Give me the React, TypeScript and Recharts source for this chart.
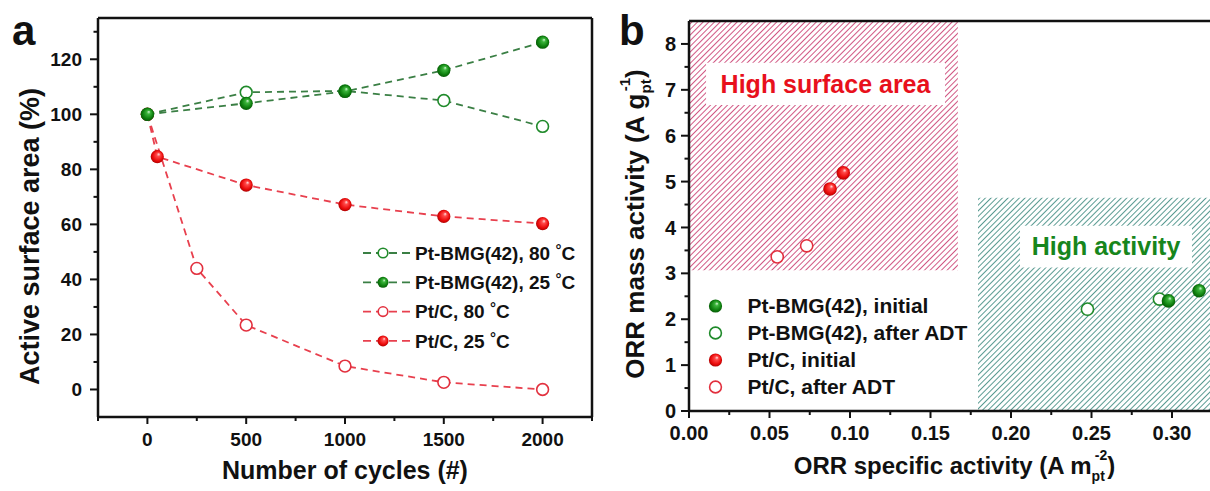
import React from 'react';
import {
  LineChart, Line, XAxis, YAxis, ReferenceLine, ReferenceArea, Legend,
  ScatterChart, Scatter, Label,
} from 'recharts';

const FONT = '"Liberation Sans", Arial, Helvetica, sans-serif';

// ---------- Panel a data ----------
const cycleMajorTicks = [0, 500, 1000, 1500, 2000];
const cycleMinorTicks = [-250, 250, 750, 1250, 1750, 2250];
const areaMajorTicks = [0, 20, 40, 60, 80, 100, 120];
const areaMinorTicks = [10, 30, 50, 70, 90, 110, 130];

const bmg80Cycles = [0, 500, 1000, 1500, 2000];
const bmg80Area = [100, 108, 108.5, 105, 95.6];
const bmg25Cycles = [0, 500, 1000, 1500, 2000];
const bmg25Area = [100, 104, 108.3, 116, 126.2];
const ptc80Cycles = [0, 250, 500, 1000, 1500, 2000];
const ptc80Area = [100, 44, 23.4, 8.5, 2.6, 0];
const ptc25Cycles = [0, 50, 500, 1000, 1500, 2000];
const ptc25Area = [100, 84.6, 74.3, 67.2, 62.9, 60.3];

// ---------- Panel b data ----------
const specMajorTicks = [0, 0.05, 0.1, 0.15, 0.2, 0.25, 0.3];
const specMinorTicks = [0.025, 0.075, 0.125, 0.175, 0.225, 0.275];
const massMajorTicks = [0, 1, 2, 3, 4, 5, 6, 7, 8];
const massMinorTicks = [0.5, 1.5, 2.5, 3.5, 4.5, 5.5, 6.5, 7.5];

const bmgInitSpec = [0.2978, 0.3168];
const bmgInitMass = [2.4, 2.62];
const bmgAdtSpec = [0.2475, 0.2922];
const bmgAdtMass = [2.22, 2.44];
const ptcInitSpec = [0.0876, 0.0958];
const ptcInitMass = [4.84, 5.19];
const ptcAdtSpec = [0.0548, 0.0731];
const ptcAdtMass = [3.36, 3.6];

const zip = (xs: number[], ys: number[]) => xs.map((x, i) => ({ x, y: ys[i] }));

const GREEN_LINE = '#3a7f44';
const GREEN = '#1f8a2a';
const RED_LINE = '#e8404e';
const RED = '#e2303e';

type Mk = { kind: 'filled' | 'open'; color: 'green' | 'red' };

const Marker = ({ cx, cy, r, m }: { cx: number; cy: number; r: number; m: Mk }) => {
  if (m.kind === 'filled') {
    return <circle cx={cx} cy={cy} r={r} fill={m.color === 'green' ? 'url(#sphGreen)' : 'url(#sphRed)'} />;
  }
  return (
    <circle cx={cx} cy={cy} r={r - 0.7} fill="#fff" stroke={m.color === 'green' ? GREEN : RED} strokeWidth={1.6} />
  );
};

const makeTick = (o: {
  orient: 'left' | 'bottom'; majors: number[]; fmt: (v: number) => string;
  fontSize: number; size: number; margin: number; majorLen: number; minorLen: number;
}) => (props: any) => {
  const { x, y, payload } = props;
  const v = payload.value as number;
  const major = o.majors.some((m) => Math.abs(m - v) < 1e-9);
  const len = major ? o.majorLen : o.minorLen;
  if (o.orient === 'left') {
    const ax = x + o.margin + o.size;
    return (
      <g>
        <line x1={ax - len} x2={ax} y1={y} y2={y} stroke="#111" strokeWidth={2} />
        {major && (
          <text x={x} y={y} dy="0.355em" textAnchor="end" fontFamily={FONT} fontWeight="bold" fontSize={o.fontSize} fill="#111">
            {o.fmt(v)}
          </text>
        )}
      </g>
    );
  }
  const ay = y - o.margin - o.size;
  return (
    <g>
      <line x1={x} x2={x} y1={ay} y2={ay + len} stroke="#111" strokeWidth={2} />
      {major && (
        <text x={x} y={y} dy="0.71em" textAnchor="middle" fontFamily={FONT} fontWeight="bold" fontSize={o.fontSize} fill="#111">
          {o.fmt(v)}
        </text>
      )}
    </g>
  );
};

const seriesA = [
  { name: 'Pt-BMG(42), 80 ', xs: bmg80Cycles, ys: bmg80Area, line: GREEN_LINE, m: { kind: 'open', color: 'green' } as Mk },
  { name: 'Pt-BMG(42), 25 ', xs: bmg25Cycles, ys: bmg25Area, line: GREEN_LINE, m: { kind: 'filled', color: 'green' } as Mk },
  { name: 'Pt/C, 80 ', xs: ptc80Cycles, ys: ptc80Area, line: RED_LINE, m: { kind: 'open', color: 'red' } as Mk },
  { name: 'Pt/C, 25 ', xs: ptc25Cycles, ys: ptc25Area, line: RED_LINE, m: { kind: 'filled', color: 'red' } as Mk },
];
const drawOrderA = [2, 3, 0, 1];

const seriesB = [
  { name: 'Pt-BMG(42), initial', xs: bmgInitSpec, ys: bmgInitMass, m: { kind: 'filled', color: 'green' } as Mk },
  { name: 'Pt-BMG(42), after ADT', xs: bmgAdtSpec, ys: bmgAdtMass, m: { kind: 'open', color: 'green' } as Mk },
  { name: 'Pt/C, initial', xs: ptcInitSpec, ys: ptcInitMass, m: { kind: 'filled', color: 'red' } as Mk },
  { name: 'Pt/C, after ADT', xs: ptcAdtSpec, ys: ptcAdtMass, m: { kind: 'open', color: 'red' } as Mk },
];
const drawOrderB = [1, 0, 3, 2];

const LegendA = () => (
  <svg width={240} height={125} style={{ overflow: 'visible', display: 'block' }}>
    {seriesA.map((s, i) => {
      const cy = 17 + i * 29.3;
      return (
        <g key={i}>
          <line x1={8} x2={55} y1={cy} y2={cy} stroke={s.line} strokeWidth={1.8} strokeDasharray="8 5" />
          <Marker cx={28} cy={cy} r={5.5} m={s.m} />
          <text x={60} y={cy} dy="0.355em" fontFamily={FONT} fontWeight="bold" fontSize={19} fill="#111">
            {s.name}
            <tspan fontSize={15} dy={-5}>°</tspan>
            <tspan dy={5}>C</tspan>
          </text>
        </g>
      );
    })}
  </svg>
);

const LegendB = () => (
  <svg width={280} height={115} style={{ overflow: 'visible', display: 'block' }}>
    {seriesB.map((s, i) => {
      const cy = 16 + i * 27;
      return (
        <g key={i}>
          <Marker cx={15.5} cy={cy} r={6.6} m={s.m} />
          <text x={47.6} y={cy} dy="0.355em" fontFamily={FONT} fontWeight="bold" fontSize={21} fill="#111">
            {s.name}
          </text>
        </g>
      );
    })}
  </svg>
);

const YLabelA = (props: any) => {
  const vb = props.viewBox;
  const cx = vb.x + 30;
  const cy = vb.y + vb.height / 2 + 19;
  return (
    <text x={cx} y={cy} dy="0.35em" textAnchor="middle" transform={`rotate(-90 ${cx} ${cy})`} fontFamily={FONT} fontWeight="bold" fontSize={27} fill="#111">
      Active surface area (%)
    </text>
  );
};

const XLabelA = (props: any) => {
  const vb = props.viewBox;
  const cx = vb.x + vb.width / 2;
  return (
    <text x={cx} y={470} dy="0.35em" textAnchor="middle" fontFamily={FONT} fontWeight="bold" fontSize={25} fill="#111">
      Number of cycles (#)
    </text>
  );
};

const YLabelB = (props: any) => {
  const vb = props.viewBox;
  const cx = vb.x + 35;
  const cy = vb.y + vb.height / 2 + 8;
  return (
    <text x={cx} y={cy} dy="0.35em" textAnchor="middle" transform={`rotate(-90 ${cx} ${cy})`} fontFamily={FONT} fontWeight="bold" fontSize={26} fill="#111">
      ORR mass activity (A g
      <tspan fontSize={15} dy={7}>pt</tspan>
      <tspan fontSize={15} dx={-12} dy={-21}>-1</tspan>
      <tspan dy={14}>)</tspan>
    </text>
  );
};

const XLabelB = (props: any) => {
  const vb = props.viewBox;
  const cx = vb.x + vb.width / 2 + 5;
  return (
    <text x={cx} y={466} dy="0.35em" textAnchor="middle" fontFamily={FONT} fontWeight="bold" fontSize={24} fill="#111">
      ORR specific activity (A m
      <tspan fontSize={14} dy={7}>pt</tspan>
      <tspan fontSize={14} dx={-10} dy={-21}>-2</tspan>
      <tspan dy={14}>)</tspan>
    </text>
  );
};

const Defs = () => (
  <svg width={0} height={0} style={{ position: 'absolute' }}>
    <defs>
      <radialGradient id="sphGreen" cx="0.5" cy="0.5" r="0.55" fx="0.62" fy="0.3">
        <stop offset="0" stopColor="#d8f7d8" />
        <stop offset="0.25" stopColor="#3cb53c" />
        <stop offset="0.7" stopColor="#0e7f0e" />
        <stop offset="1" stopColor="#055205" />
      </radialGradient>
      <radialGradient id="sphRed" cx="0.5" cy="0.5" r="0.55" fx="0.62" fy="0.3">
        <stop offset="0" stopColor="#ffe4e4" />
        <stop offset="0.25" stopColor="#ff4a4a" />
        <stop offset="0.7" stopColor="#ea0a0a" />
        <stop offset="1" stopColor="#a00000" />
      </radialGradient>
      <pattern id="hatchPink" patternUnits="userSpaceOnUse" width={4} height={4} patternTransform="rotate(45)">
        <rect width={4} height={4} fill="#fff" />
        <line x1={0} y1={0} x2={0} y2={4} stroke="#c93a6e" strokeWidth={1.7} />
      </pattern>
      <pattern id="hatchGreen" patternUnits="userSpaceOnUse" width={4} height={4} patternTransform="rotate(45)">
        <rect width={4} height={4} fill="#fff" />
        <line x1={0} y1={0} x2={0} y2={4} stroke="#2f8276" strokeWidth={1.6} />
      </pattern>
    </defs>
  </svg>
);

export default function App() {
  return (
    <div style={{ position: 'fixed', left: 0, top: 0, width: 1210, height: 491, overflow: 'hidden', background: '#fff' }}>
      <Defs />
      {/* Panel a */}
      <div style={{ position: 'absolute', left: 0, top: 0 }}>
        <LineChart width={600} height={491} margin={{ top: 18, right: 8, bottom: 0, left: 0 }}>
          <XAxis
            dataKey="x" type="number" domain={[-250, 2250]} allowDataOverflow
            ticks={[...cycleMajorTicks, ...cycleMinorTicks].sort((a, b) => a - b)} interval={0}
            tickLine={false} tickSize={7} tickMargin={9} height={74}
            axisLine={{ stroke: '#111', strokeWidth: 2.5 }}
            tick={makeTick({ orient: 'bottom', majors: cycleMajorTicks, fmt: (v) => String(v), fontSize: 19, size: 7, margin: 9, majorLen: 7, minorLen: 4 })}
          >
            <Label content={<XLabelA />} />
          </XAxis>
          <YAxis
            dataKey="y" type="number" domain={[-10, 135]} allowDataOverflow
            ticks={[...areaMajorTicks, ...areaMinorTicks].sort((a, b) => a - b)} interval={0}
            tickLine={false} tickSize={8} tickMargin={8} width={98}
            axisLine={{ stroke: '#111', strokeWidth: 2.5 }}
            tick={makeTick({ orient: 'left', majors: areaMajorTicks, fmt: (v) => String(v), fontSize: 19, size: 8, margin: 8, majorLen: 8, minorLen: 4.5 })}
          >
            <Label content={<YLabelA />} />
          </YAxis>
          <ReferenceLine y={135} stroke="#111" strokeWidth={2.5} />
          <ReferenceLine x={2250} stroke="#111" strokeWidth={2.5} />
          {drawOrderA.map((k) => {
            const s = seriesA[k];
            return (
              <Line
                key={k}
                data={zip(s.xs, s.ys)}
                dataKey="y"
                name={s.name}
                type="linear"
                stroke={s.line}
                strokeWidth={1.8}
                strokeDasharray="7 5"
                isAnimationActive={false}
                dot={(p: any) => <Marker key={`d${k}-${p.index}`} cx={p.cx} cy={p.cy} r={6.6} m={s.m} />}
                activeDot={false}
              />
            );
          })}
          <Legend
            layout="vertical" align="center" verticalAlign="middle"
            wrapperStyle={{ left: 355, top: 236, width: 240 }}
            content={() => <LegendA />}
          />
        </LineChart>
      </div>

      {/* Panel b */}
      <div style={{ position: 'absolute', left: 600, top: 0 }}>
        <ScatterChart width={610} height={491} margin={{ top: 21, right: 0, bottom: 0, left: 0 }}>
          <XAxis
            dataKey="x" type="number" domain={[0, 0.3236]} allowDataOverflow
            ticks={[...specMajorTicks, ...specMinorTicks].sort((a, b) => a - b)} interval={0}
            tickLine={false} tickSize={7} tickMargin={8} height={80}
            axisLine={{ stroke: '#111', strokeWidth: 2.5 }}
            tick={makeTick({ orient: 'bottom', majors: specMajorTicks, fmt: (v) => v.toFixed(2), fontSize: 20, size: 7, margin: 8, majorLen: 7, minorLen: 4 })}
          >
            <Label content={<XLabelB />} />
          </XAxis>
          <YAxis
            dataKey="y" type="number" domain={[0, 8.5]} allowDataOverflow
            ticks={[...massMajorTicks, ...massMinorTicks].sort((a, b) => a - b)} interval={0}
            tickLine={false} tickSize={8} tickMargin={5} width={89}
            axisLine={{ stroke: '#111', strokeWidth: 2.5 }}
            tick={makeTick({ orient: 'left', majors: massMajorTicks, fmt: (v) => String(v), fontSize: 20, size: 8, margin: 5, majorLen: 8, minorLen: 4.5 })}
          >
            <Label content={<YLabelB />} />
          </YAxis>
          <ReferenceArea x1={0} x2={0.167} y1={3.07} y2={8.5} fill="url(#hatchPink)" fillOpacity={1} stroke="none" ifOverflow="visible" />
          <ReferenceArea x1={0.1795} x2={0.3236} y1={0} y2={4.65} fill="url(#hatchGreen)" fillOpacity={1} stroke="none" ifOverflow="visible" />
          <ReferenceArea
            x1={0.0106} x2={0.159} y1={6.67} y2={7.59} fill="#fff" fillOpacity={1} stroke="none"
            label={{ value: 'High surface area', position: 'center', fill: '#e8101c', fontSize: 25, fontWeight: 'bold', fontFamily: FONT }}
          />
          <ReferenceArea
            x1={0.2056} x2={0.3124} y1={3.13} y2={4.04} fill="#fff" fillOpacity={1} stroke="none"
            label={{ value: 'High activity', position: 'center', fill: '#17861c', fontSize: 25, fontWeight: 'bold', fontFamily: FONT }}
          />
          <ReferenceLine y={8.5} stroke="#111" strokeWidth={2.5} ifOverflow="visible" />
          {drawOrderB.map((k) => {
            const s = seriesB[k];
            return (
              <Scatter
                key={k}
                name={s.name}
                data={zip(s.xs, s.ys)}
                isAnimationActive={false}
                shape={(p: any) => <Marker cx={p.cx} cy={p.cy} r={6.8} m={s.m} />}
              />
            );
          })}
          <Legend
            layout="vertical" align="center" verticalAlign="middle"
            wrapperStyle={{ left: 100, top: 290, width: 280 }}
            content={() => <LegendB />}
          />
        </ScatterChart>
      </div>

      {/* Panel letters */}
      <svg width={1210} height={491} style={{ position: 'absolute', left: 0, top: 0, pointerEvents: 'none' }}>
        <text x={12} y={45} fontFamily={FONT} fontWeight="bold" fontSize={42} fill="#111">a</text>
        <text x={619} y={45} fontFamily={FONT} fontWeight="bold" fontSize={42} fill="#111">b</text>
      </svg>
    </div>
  );
}
